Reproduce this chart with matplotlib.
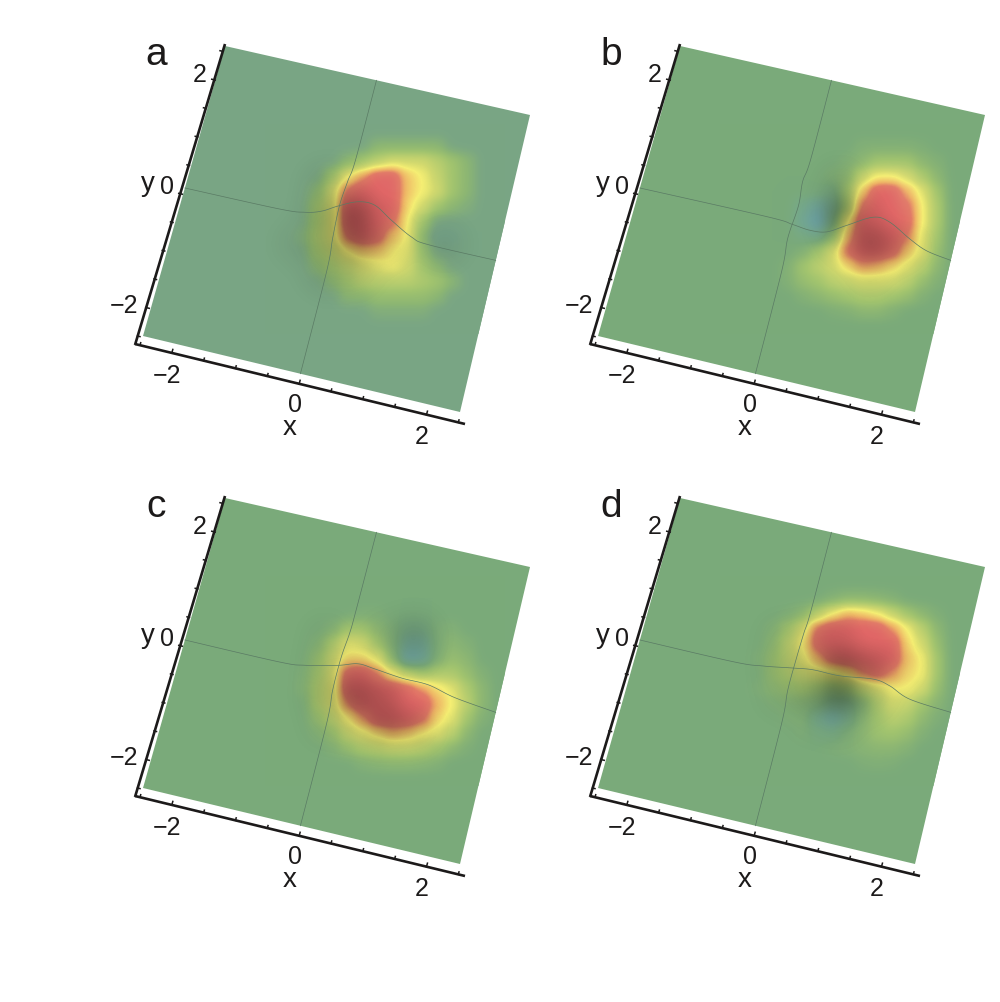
import numpy as np
import matplotlib
matplotlib.use('Agg')
import matplotlib.pyplot as plt
from matplotlib.colors import LinearSegmentedColormap
from matplotlib.patches import Polygon

plt.rcParams['font.family'] = ['Liberation Sans', 'DejaVu Sans']

# FIELD LEVELS ----------------------------------------------------------------
# 0 = flat background, 5 = yellow, 9 = red, below 0 = blue dip
field_a = [
    [0, 0, 0, 0, 0, 0, 1, 1, 1, 1, 1, 0, 0, 0],
    [0, 0, 0, 0, 1, 2, 3, 4, 4, 4, 3, 2, 1, 0],
    [0, 0, 0, 2, 5, 7, 9, 9, 6, 5, 3.5, 2, 1, 0],
    [0, 0, 1, 4, 8, 9, 9, 9, 6, 5, 4, 2, 1, 0],
    [0, 0, 2, 4, 9, 9, 9, 9, 5.5, 4, 2, 1, .5, 0],
    [0, 0, 2, 4, 9, 9, 9, 8, 5, 2, 0, 0, 0, 0],
    [0, .5, 2.5, 4, 8, 9, 8.5, 6, 5, 1, -.5, -.5, 0, 0],
    [0, 0, 2, 3, 5, 6, 6, 5, 4.5, 1.5, 0, 0, 0, 0],
    [0, 0, 1, 2, 3, 4, 4.5, 5, 4, 2, 1, 0, 0, 0],
    [0, 0, 0, 1, 2, 3, 3, 3, 3, 2.5, 2, 1, 0, 0],
    [0, 0, 0, 0, 1, 1, 1.5, 1.5, 1.5, 1.5, 1, 0, 0, 0],
    [0, 0, 0, 0, 0, 0, .5, .5, .5, .5, 0, 0, 0, 0],
]
field_b = [
    [0, 0, 0, 0, 0, 0, 0, 0, .5, .5, .5, .5, .3, 0],
    [0, 0, 0, 0, 0, 0, 0, .5, 1, 2, 2, 2, 1, .5],
    [0, 0, 0, 0, 0, 0, .5, 1, 3.5, 5, 5, 4, 2.5, 1],
    [0, 0, 0, 0, 0, 0, -.5, 2, 6, 9, 9, 6.5, 4.5, 2],
    [0, 0, 0, 0, -1, -2, -1, 2, 8, 9, 9, 8, 5, 2.5],
    [0, 0, 0, 0, -1.5, -3, -.5, 5, 9, 9, 9, 8.5, 5, 2.5],
    [0, 0, 0, 0, -.5, -1, 1, 6.5, 9, 9, 9, 7.5, 4.5, 2],
    [0, 0, 0, 0, .5, 2, 4, 8, 9, 9, 8.5, 6, 4.5, 1.5],
    [0, 0, 0, .5, 2, 3, 4, 5.5, 7, 6.5, 5.5, 4.5, 3, 1],
    [0, 0, 0, .5, 1.5, 2, 3, 3.5, 4, 4, 4, 3, 1.5, .5],
    [0, 0, 0, 0, .5, 1, 1.5, 2, 2.5, 2.5, 2, 1.5, .5, 0],
    [0, 0, 0, 0, 0, 0, .3, .5, 1, 1, .5, 0, 0, 0],
]
field_c = [
    [0, 0, 0, 0, 0, 0, 0, 0, 0, 0, 0, 0, 0, 0],
    [0, 0, 0, 0, 0, .3, .3, 0, 0, 0, 0, 0, 0, 0],
    [0, 0, 0, .5, 2, 2, 1, .3, -.5, -.5, .3, .5, 0, 0],
    [0, 0, .5, 2.5, 4.5, 4, 2, .5, -1.5, -1.5, .3, 1, .5, 0],
    [0, 0, 1.5, 3.5, 5.5, 5.5, 4.5, 1, -2.5, -2, .5, 1.5, 1, 0],
    [0, .3, 2, 4, 8.5, 9, 7.5, 5, 3, 2, 2.5, 2.5, 1.5, .5],
    [0, .5, 2.5, 4, 9, 9, 9, 9, 8.5, 7, 5.5, 4.5, 2.5, 1],
    [0, 0, 2.5, 4, 7.5, 9, 9, 9, 9, 9, 6.5, 5, 3, 1],
    [0, 0, 1.5, 3, 5, 7, 9, 9, 9, 8, 5.5, 4.5, 2, .5],
    [0, 0, .5, 1.5, 3.5, 4.5, 5.5, 6.5, 6, 5, 4.5, 3, 1, 0],
    [0, 0, 0, .5, 1.5, 2.5, 3, 3.5, 3.5, 3, 2, 1, .3, 0],
    [0, 0, 0, 0, 0, .5, .8, 1, 1, .8, .5, 0, 0, 0],
]
field_d = [
    [0, 0, 0, 0, 0, 0, .5, 1, 1, .8, .5, 0, 0, 0],
    [0, 0, 0, .3, 1, 3, 5, 6.5, 6, 5, 3.5, 2, 1, .3],
    [0, 0, .5, 2, 4, 8, 9, 9, 9, 9, 7, 5, 3, 1],
    [0, 0, 1, 3, 5, 8.5, 9, 9, 9, 9, 9, 5.5, 4, 1.5],
    [0, .3, 1.5, 3, 4.5, 6.5, 8.5, 9, 9, 9, 9, 6, 5, 2],
    [0, 0, 1.5, 2.5, 3.5, 4, 4.5, 5.5, 7.5, 8.5, 7, 5.5, 5, 2],
    [0, .3, 1, 1.5, 2, 1.5, 1, 1.5, 3, 4, 5, 5, 4, 1.5],
    [0, 0, .3, .5, .5, .3, -.5, -.5, .5, 2.5, 4, 3.5, 2, .8],
    [0, 0, 0, .3, .5, -1, -2, -.8, .8, 2, 3, 2.5, 1.2, .3],
    [0, 0, 0, 0, .3, -.3, -.5, .3, 1, 1.8, 2, 1.5, .5, 0],
    [0, 0, 0, 0, 0, 0, .3, .5, .8, 1, 1, .6, 0, 0],
    [0, 0, 0, 0, 0, 0, 0, 0, .3, .4, .3, 0, 0, 0],
]

# SHADING, negative = darker -------------------------------------------------
shade_a = [
    [0, 0, 0, 0, 0, 0, 0],
    [0, -.1, -.05, .05, 0, 0, 0],
    [0, -.2, -.4, -.05, 0, 0, 0],
    [-.05, -.2, -.35, -.15, 0, -.1, 0],
    [0, -.1, -.1, 0, 0, 0, 0],
    [0, 0, 0, 0, 0, 0, 0],
]
shade_b = [
    [0, 0, 0, 0, 0, 0, 0],
    [0, 0, 0, -.1, 0, .05, 0],
    [0, 0, 0, -.35, -.1, .05, 0],
    [0, 0, 0, -.05, -.35, -.15, 0],
    [0, 0, 0, 0, -.05, 0, 0],
    [0, 0, 0, 0, 0, 0, 0],
]
shade_c = [
    [0, 0, 0, 0, 0, 0, 0],
    [0, -.05, 0, -.05, -.2, 0, 0],
    [0, -.1, -.1, 0, -.05, 0, 0],
    [0, -.15, -.35, -.2, .05, 0, 0],
    [0, -.05, -.1, -.3, -.2, 0, 0],
    [0, 0, 0, 0, 0, 0, 0],
]
shade_d = [
    [0, 0, 0, 0, 0, 0, 0],
    [0, -.05, -.1, -.1, .05, 0, 0],
    [0, -.1, -.15, -.4, -.25, -.05, 0],
    [0, -.05, -.15, -.4, -.1, 0, 0],
    [0, 0, -.02, -.05, 0, 0, 0],
    [0, 0, 0, 0, 0, 0, 0],
]

# MESH LINES: x along y = 0 and how far the surface lifts it ------------------
line_x_a = [-2.5, -.98, -.55, -.28, -.02, .3, .57, .84, 1.16, 1.43, 2.5]
line_z_a = [0, 1, 3.7, 8.8, 17.6, 26.5, 27, 15.7, 3.7, 0, 0]
line_x_b = [-2.5, -.44, -.03, .25, .52, .84, 1.27, 1.53, 1.85, 2.12, 2.5]
line_z_b = [0, .9, -.9, -2.7, -.4, 10.7, 25.2, 24, 11.9, 3.9, 0]
line_x_c = [-2.5, -.98, -.55, -.02, .3, .57, 1.0, 1.43, 1.85, 2.5]
line_z_c = [0, 0, 2.7, 10.3, 16.5, 15.3, 12.4, 11.8, 5.2, 0]
line_x_d = [-2.5, -.98, -.5, -.02, .3, .73, 1.27, 1.53, 1.85, 2.5]
line_z_d = [0, 0, 2.7, 7.6, 10.5, 10.7, 15.2, 12.3, 3.6, 0]

# y along x = 0 and sideways shift
vline_y = [2.5, 1.1, .73, .31, -.24, -.8, -2.5]
vline_dx_a = [0, -.3, -2.6, -4.5, -2.9, -.3, 0]
vline_dx_b = [0, -.3, -2.6, -.5, -2.8, -.3, 0]
vline_dx_c = [0, -.2, -.7, -2.9, -2.9, -.3, 0]
vline_dx_d = [0, -.2, -1.5, -2.4, -2.8, -.3, 0]

panel_names = ['a', 'b', 'c', 'd']
panel_dx = [0, 455, 0, 455]
panel_dy = [0, 0, 452, 452]
backgrounds = ['#79a584', '#7aaa7a', '#7aaa7a', '#7aaa7a']
fields = [field_a, field_b, field_c, field_d]
shades = [shade_a, shade_b, shade_c, shade_d]
line_xs = [line_x_a, line_x_b, line_x_c, line_x_d]
line_zs = [line_z_a, line_z_b, line_z_c, line_z_d]
vline_dxs = [vline_dx_a, vline_dx_b, vline_dx_c, vline_dx_d]

ticks = [-2.5, -2, -1.5, -1, -.5, 0, .5, 1, 1.5, 2, 2.5]
tick_labels = ['\u22122', '0', '2']

# PROJECTION from the x, y plane to figure pixels -----------------------------
corners_xy = [(-2.5, 2.5), (2.5, 2.5), (2.5, -2.5), (-2.5, -2.5)]
corners_px = [(225, 47), (530, 116), (460, 413), (143, 337)]

A = []
b = []
for (u, v), (px, py) in zip(corners_xy, corners_px):
    A.append([u, v, 1, 0, 0, 0, -u * px, -v * px])
    A.append([0, 0, 0, u, v, 1, -u * py, -v * py])
    b += [px, py]
H = np.append(np.linalg.solve(np.array(A, float), np.array(b, float)), 1).reshape(3, 3)


def project(x, y):
    x = np.asarray(x, float)
    y = np.asarray(y, float) * np.ones_like(x)
    w = H[2, 0] * x + H[2, 1] * y + H[2, 2]
    return (H[0, 0] * x + H[0, 1] * y + H[0, 2]) / w, (H[1, 0] * x + H[1, 1] * y + H[1, 2]) / w


def smooth(px, py, n=12):
    # catmull-rom through the read points so the mesh lines do not look angular
    p = np.column_stack([px, py])
    p = np.vstack([p[0], p, p[-1]])
    out = []
    for k in range(1, len(p) - 2):
        for t in np.linspace(0, 1, n, endpoint=False):
            out.append(.5 * (2 * p[k] + (p[k + 1] - p[k - 1]) * t
                             + (2 * p[k - 1] - 5 * p[k] + 4 * p[k + 1] - p[k + 2]) * t ** 2
                             + (3 * p[k] - p[k - 1] - 3 * p[k + 1] + p[k + 2]) * t ** 3))
    out.append(p[-1])
    out = np.array(out)
    return out[:, 0], out[:, 1]


fig = plt.figure(figsize=(10, 10.03), dpi=100)
ax = fig.add_axes([0, 0, 1, 1])
line_color = '#5a7a64'
ink = '#1c1a1a'

shade_cmap = LinearSegmentedColormap.from_list('shade', [
    (0, (0, 0, 0, .6)), (.5, (0, 0, 0, 0)), (.5, (1, 1, 1, 0)), (1, (1, 1, 1, .6))])

for i, name in enumerate(panel_names):
    dx, dy = panel_dx[i], panel_dy[i]
    bg = backgrounds[i]

    # level -3 blue, 0 background, 5 yellow, 9 red
    level_cmap = LinearSegmentedColormap.from_list('level' + name, [
        (0, '#6da5ad'), (3 / 12, bg), (4 / 12, '#8cb673'), (5 / 12, '#a2c46e'), (7 / 12, '#d2d96e'),
        (8 / 12, '#f5ee73'), (9.5 / 12, '#eeb365'), (10.5 / 12, '#e27a66'), (1, '#e06666')])

    surface = Polygon([(px + dx, py + dy) for px, py in corners_px], closed=True,
                      facecolor=bg, edgecolor='none', zorder=1)
    ax.add_patch(surface)

    im = ax.imshow(np.pad(np.array(fields[i], float), 1), cmap=level_cmap, vmin=-3, vmax=9,
                   extent=(265 + dx, 505 + dx, 335 + dy, 125 + dy), origin='upper',
                   interpolation='gaussian', interpolation_stage='data', aspect='auto', zorder=2)
    im.set_clip_path(surface)
    im2 = ax.imshow(np.pad(np.array(shades[i], float), 1), cmap=shade_cmap, vmin=-.6, vmax=.6,
                    extent=(250 + dx, 520 + dx, 350 + dy, 110 + dy), origin='upper',
                    interpolation='gaussian', interpolation_stage='data', aspect='auto', zorder=3)
    im2.set_clip_path(surface)

    # mesh lines
    px, py = project(line_xs[i], 0.0)
    sx, sy = smooth(px + dx, py + dy - np.array(line_zs[i]))
    ax.plot(sx, sy, color=line_color, lw=.5, zorder=4)
    px, py = project(0.0 * np.array(vline_y), np.array(vline_y))
    sx, sy = smooth(px + dx + np.array(vline_dxs[i]), py + dy)
    ax.plot(sx, sy, color=line_color, lw=.5, zorder=4)

    # axes
    ax.plot([135 + dx, 465 + dx], [345 + dy, 425 + dy], color=ink, lw=1.9, zorder=5, solid_capstyle='butt')
    ax.plot([135 + dx, 225 + dx], [346 + dy, 45 + dy], color=ink, lw=1.9, zorder=5, solid_capstyle='butt')
    for t in ticks:
        s = (t + 2.5) / 5
        tx = 140 + s * (458.3 - 140)
        ty = 346.2 + s * (423.4 - 346.2)
        ln = 3.5 if t in (-2, 0, 2) else 2.5
        ax.plot([tx + dx, tx + dx + .28 * ln], [ty + dy, ty + dy - ln], color=ink, lw=1.1, zorder=5)
        tx = 137.5 + s * (220 - 137.5)
        ty = 337 + s * (51.7 - 337)
        ax.plot([tx + dx, tx + dx + ln], [ty + dy, ty + dy + .24 * ln], color=ink, lw=1.1, zorder=5)

    # text
    ax.text(156 + dx, 55 + dy, name, fontsize=28, color=ink, ha='center', va='center')
    ax.text(167 + dx, 376 + dy, tick_labels[0], fontsize=18, color=ink, ha='center', va='center')
    ax.text(295 + dx, 405 + dy, tick_labels[1], fontsize=18, color=ink, ha='center', va='center')
    ax.text(422 + dx, 437 + dy, tick_labels[2], fontsize=18, color=ink, ha='center', va='center')
    ax.text(290 + dx, 428 + dy, 'x', fontsize=20, color=ink, ha='center', va='center')
    ax.text(200 + dx, 75 + dy, tick_labels[2], fontsize=18, color=ink, ha='center', va='center')
    ax.text(167 + dx, 187 + dy, tick_labels[1], fontsize=18, color=ink, ha='center', va='center')
    ax.text(124 + dx, 306 + dy, tick_labels[0], fontsize=18, color=ink, ha='center', va='center')
    ax.text(148 + dx, 184 + dy, 'y', fontsize=20, color=ink, ha='center', va='center')

ax.set_xlim(0, 1000)
ax.set_ylim(1003, 0)
ax.axis('off')
fig.savefig('out.png', dpi=100, facecolor='white')
